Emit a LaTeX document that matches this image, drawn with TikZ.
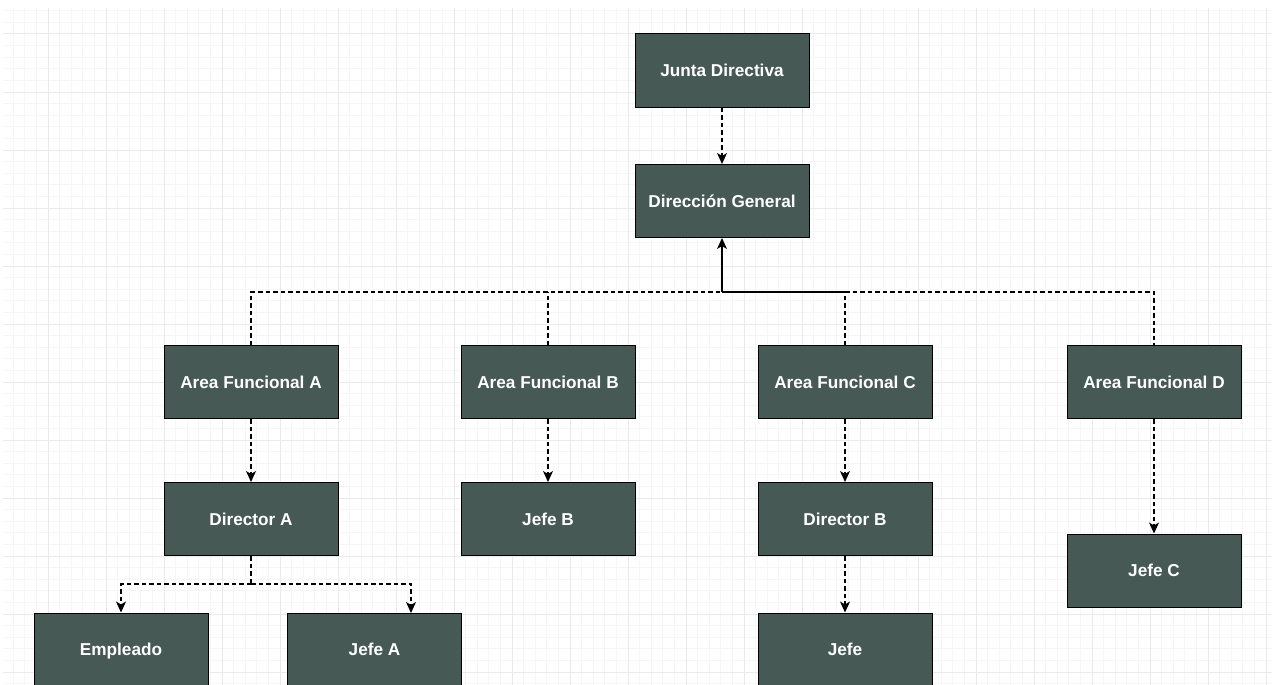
\documentclass[tikz,border=0pt]{standalone}
\usepackage{fontspec}
\setmainfont{Liberation Sans}
\usetikzlibrary{arrows.meta}
\definecolor{boxfill}{HTML}{475955}
\definecolor{gridminor}{HTML}{F6F6F6}
\definecolor{gridmajor}{HTML}{EAEAEA}
\begin{document}
\begin{tikzpicture}[x=1pt,y=-1pt,
  orgbox/.style={rectangle, draw=black, line width=1pt, fill=boxfill,
    minimum width=174pt, minimum height=73pt, inner sep=0pt,
    text height=12.3pt, text depth=0pt,
    text=white, font=\fontsize{17.2}{19}\selectfont\bfseries},
  link/.style={draw=black, line width=1.2pt, dash pattern=on 4.5pt off 3pt},
  solidlink/.style={draw=black, line width=1.2pt},
  tip/.style={-{Stealth[length=11pt,width=10pt,inset=3pt]}}]
  \useasboundingbox (0,0) rectangle (1272,685);
  \fill[white] (0,0) rectangle (1272,685);
  % background grid
  \begin{scope}
    \clip (3,8) rectangle (1272,685);
    \foreach \i in {0,...,110}
      \draw[gridminor, line width=1pt] ({1.6+11.6*\i},8) -- ++(0,677);
    \foreach \j in {0,...,60}
      \draw[gridminor, line width=1pt] (3,{10.8+11.6*\j}) -- ++(1269,0);
    \foreach \i in {0,...,22}
      \draw[gridmajor, line width=1pt] ({48+58*\i},8) -- ++(0,677);
    \foreach \j in {0,...,12}
      \draw[gridmajor, line width=1pt] (3,{34+58*\j}) -- ++(1269,0);
  \end{scope}

  % boxes
  \node[orgbox] (junta) at (722,70.5) {Junta Directiva};
  \node[orgbox] (dirgen) at (722,201) {Dirección General};
  \node[orgbox] (areaA) at (251,382) {Area Funcional A};
  \node[orgbox] (areaB) at (548,382) {Area Funcional B};
  \node[orgbox] (areaC) at (845,382) {Area Funcional C};
  \node[orgbox] (areaD) at (1154,382) {Area Funcional D};
  \node[orgbox] (dirA) at (251,519) {Director A};
  \node[orgbox] (jefeB) at (548,519) {Jefe B};
  \node[orgbox] (dirB) at (845,519) {Director B};
  \node[orgbox] (jefeC) at (1154,570.5) {Jefe C};
  \node[orgbox] (empleado) at (121,649.5) {Empleado};
  \node[orgbox] (jefeA) at (374.5,649.5) {Jefe A};
  \node[orgbox] (jefe) at (845,649.5) {Jefe};

  % connection points
  \coordinate (bus) at (722,292);
  \coordinate (splitA) at (251,584);
  \coordinate (jefeAin) at (411,613);

  % top level
  \draw[link, tip] (junta) -- (dirgen);
  \draw[solidlink, tip] (bus) -- (dirgen);
  \draw[link] (areaA) |- (bus);
  \draw[link] (areaB) -- (areaB.north |- bus);
  \draw[link] (areaC) -- (areaC.north |- bus);
  \draw[solidlink] (bus) -- (areaC.north |- bus);
  \draw[link] (areaC.north |- bus) -| (areaD);

  % area columns
  \draw[link, tip] (areaA) -- (dirA);
  \draw[link, tip] (areaB) -- (jefeB);
  \draw[link, tip] (areaC) -- (dirB);
  \draw[link, tip] (areaD) -- (jefeC);
  \draw[link, tip] (dirB) -- (jefe);

  % Director A branches
  \draw[link] (dirA) -- (splitA);
  \draw[link, tip] (splitA) -| (empleado);
  \draw[link, tip] (splitA) -| (jefeAin);
\end{tikzpicture}
\end{document}
